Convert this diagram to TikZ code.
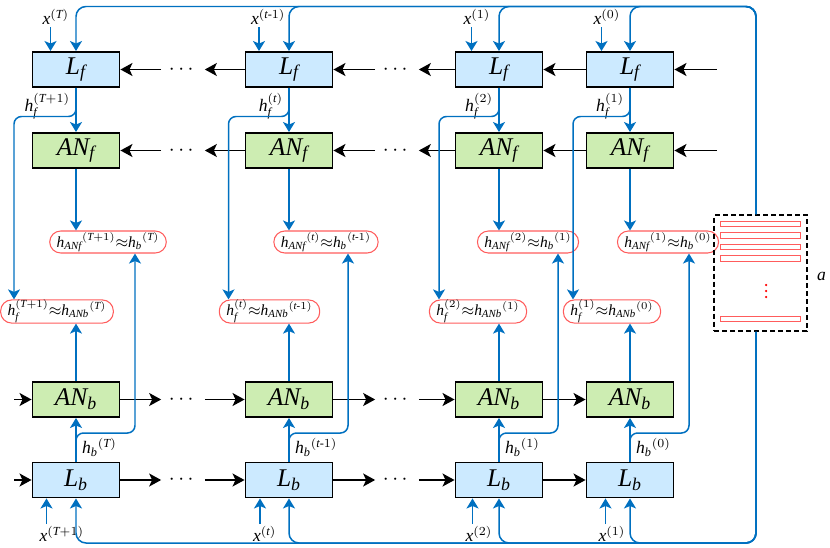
\documentclass[tikz,border=0pt]{standalone}
\usepackage{amsmath}
\usepackage{fontspec}
\setmainfont{Liberation Serif}[NFSSFamily=libserif]
\DeclareSymbolFont{letters}{TU}{libserif}{m}{it}
\DeclareSymbolFont{operators}{TU}{libserif}{m}{n}
\usetikzlibrary{arrows.meta}

\definecolor{feedblue}{RGB}{0,112,192}
\definecolor{lfill}{RGB}{204,234,255}
\definecolor{anfill}{RGB}{205,237,178}
\definecolor{pairred}{RGB}{255,92,92}

\begin{document}
\begin{tikzpicture}[
  lbox/.style={draw=black, line width=1.1pt, fill=lfill, minimum width=1.74cm, minimum height=0.7cm, inner sep=0pt, font=\fontsize{14.5}{17}\selectfont},
  anbox/.style={lbox, fill=anfill},
  pair/.style={draw=pairred, line width=0.6pt, rounded corners=0.22cm, minimum height=0.44cm, inner xsep=4pt, inner ysep=0pt, font=\fontsize{8.8}{10}\selectfont},
  slot/.style={draw=pairred, line width=0.6pt, minimum width=1.614cm, minimum height=0.11cm, inner sep=0pt},
  dots/.style={minimum width=0.86cm, inner sep=0pt, font=\large},
  lab/.style={inner sep=1pt},
  feed/.style={draw=feedblue, line width=0.85pt, -{Stealth[length=0.2cm, width=0.24cm, inset=0.05cm]}},
  flow/.style={draw=black, line width=0.95pt, -{Stealth[length=0.24cm, width=0.26cm, inset=0.06cm]}}
]
\useasboundingbox (0,0) rectangle (16.6,-10.94);

% forward chain
\node[lbox] (Lf1) at (1.52, -1.39) {$L_f$};
\node[lbox] (Lf2) at (5.78, -1.39) {$L_f$};
\node[lbox] (Lf3) at (9.98, -1.39) {$L_f$};
\node[lbox] (Lf4) at (12.60, -1.39) {$L_f$};
\node[anbox] (ANf1) at (1.52, -3.01) {$AN_f$};
\node[anbox] (ANf2) at (5.78, -3.01) {$AN_f$};
\node[anbox] (ANf3) at (9.98, -3.01) {$AN_f$};
\node[anbox] (ANf4) at (12.60, -3.01) {$AN_f$};

% backward chain
\node[anbox] (ANb1) at (1.52, -7.99) {$AN_b$};
\node[anbox] (ANb2) at (5.78, -7.99) {$AN_b$};
\node[anbox] (ANb3) at (9.98, -7.99) {$AN_b$};
\node[anbox] (ANb4) at (12.60, -7.99) {$AN_b$};
\node[lbox] (Lb1) at (1.52, -9.60) {$L_b$};
\node[lbox] (Lb2) at (5.78, -9.60) {$L_b$};
\node[lbox] (Lb3) at (9.98, -9.60) {$L_b$};
\node[lbox] (Lb4) at (12.60, -9.60) {$L_b$};

% matched states
\node[pair] (up1) at (2.16, -4.84) {$h_{ANf}{}^{(T+1)}{\approx}h_b{}^{(T)}$};
\node[pair] (up2) at (6.52, -4.84) {$h_{ANf}{}^{(t)}{\approx}h_b{}^{(t\text{-}1)}$};
\node[pair] (up3) at (10.56, -4.84) {$h_{ANf}{}^{(2)}{\approx}h_b{}^{(1)}$};
\node[pair] (up4) at (13.36, -4.84) {$h_{ANf}{}^{(1)}{\approx}h_b{}^{(0)}$};
\node[pair] (lo1) at (1.14, -6.23) {$h_f^{(T+1)}{\approx}h_{ANb}{}^{(T)}$};
\node[pair] (lo2) at (5.39, -6.23) {$h_f^{(t)}{\approx}h_{ANb}{}^{(t\text{-}1)}$};
\node[pair] (lo3) at (9.56, -6.23) {$h_f^{(2)}{\approx}h_{ANb}{}^{(1)}$};
\node[pair] (lo4) at (12.24, -6.23) {$h_f^{(1)}{\approx}h_{ANb}{}^{(0)}$};

% memory
\node[draw=black, line width=1.1pt, dash pattern=on 0.1cm off 0.06cm, minimum width=1.854cm, minimum height=2.32cm, inner sep=0pt] (mem) at (15.21, -5.46) {};
\node[slot] (slot1) at (15.21, -4.48) {};
\node[slot] (slot2) at (15.21, -4.71) {};
\node[slot] (slot3) at (15.21, -4.94) {};
\node[slot] (slot4) at (15.21, -5.17) {};
\node[slot] (slot5) at (15.21, -6.38) {};
\fill[red] (15.32, -5.70) circle (0.025);
\fill[red] (15.32, -5.82) circle (0.025);
\fill[red] (15.32, -5.94) circle (0.025);
\node[lab] (mema) at (16.43, -5.53) {$a$};

% dots
\node[dots] (dtf1) at (3.66, -1.39) {$\cdots$};
\node[dots] (dtf2) at (7.94, -1.39) {$\cdots$};
\node[dots] (daf1) at (3.66, -3.01) {$\cdots$};
\node[dots] (daf2) at (7.94, -3.01) {$\cdots$};
\node[dots] (dab1) at (3.66, -7.99) {$\cdots$};
\node[dots] (dab2) at (7.94, -7.99) {$\cdots$};
\node[dots] (dlb1) at (3.66, -9.60) {$\cdots$};
\node[dots] (dlb2) at (7.94, -9.60) {$\cdots$};

% free ends
\coordinate (top) at (0, -0.13);
\coordinate (bot) at (0, -10.86);
\coordinate (inLf) at (14.33, -1.39);
\coordinate (inANf) at (14.33, -3.01);
\coordinate (inANb) at (0.28, -7.99);
\coordinate (inLb) at (0.28, -9.60);
\coordinate (xt1) at (1.01, -0.54);
\coordinate (xt2) at (5.18, -0.54);
\coordinate (xt3) at (9.43, -0.54);
\coordinate (xt4) at (12.03, -0.54);
\coordinate (xb1) at (0.93, -10.48);
\coordinate (xb2) at (5.20, -10.48);
\coordinate (xb3) at (9.45, -10.48);
\coordinate (xb4) at (12.11, -10.48);
\coordinate (hf1) at (0.28, -2.33);
\coordinate (hf2) at (4.57, -2.33);
\coordinate (hf3) at (8.78, -2.33);
\coordinate (hf4) at (11.46, -2.33);
\coordinate (hb1) at (2.70, -8.66);
\coordinate (hb2) at (6.96, -8.66);
\coordinate (hb3) at (11.16, -8.66);
\coordinate (hb4) at (13.78, -8.66);

% labels
\node[lab, anchor=south west] (lxt1) at ([xshift=-0.2cm]xt1) {$x^{(T)}$};
\node[lab, anchor=south west] (lxt2) at ([xshift=-0.2cm]xt2) {$x^{(t\text{-}1)}$};
\node[lab, anchor=south west] (lxt3) at ([xshift=-0.2cm]xt3) {$x^{(1)}$};
\node[lab, anchor=south west] (lxt4) at ([xshift=-0.2cm]xt4) {$x^{(0)}$};
\node[lab, anchor=north west] (lxb1) at ([xshift=-0.18cm]xb1) {$x^{(T+1)}$};
\node[lab, anchor=north west] (lxb2) at ([xshift=-0.18cm]xb2) {$x^{(t)}$};
\node[lab, anchor=north west] (lxb3) at ([xshift=-0.18cm]xb3) {$x^{(2)}$};
\node[lab, anchor=north west] (lxb4) at ([xshift=-0.18cm]xb4) {$x^{(1)}$};
\node[lab, anchor=north east] (lhf1) at ([xshift=-0.08cm, yshift=-0.06cm]Lf1.south) {$h_f^{(T+1)}$};
\node[lab, anchor=north east] (lhf2) at ([xshift=-0.08cm, yshift=-0.06cm]Lf2.south) {$h_f^{(t)}$};
\node[lab, anchor=north east] (lhf3) at ([xshift=-0.08cm, yshift=-0.06cm]Lf3.south) {$h_f^{(2)}$};
\node[lab, anchor=north east] (lhf4) at ([xshift=-0.08cm, yshift=-0.06cm]Lf4.south) {$h_f^{(1)}$};
\node[lab, anchor=south west] (lhb1) at ([xshift=0.08cm, yshift=0.06cm]Lb1.north) {$h_b{}^{(T)}$};
\node[lab, anchor=south west] (lhb2) at ([xshift=0.08cm, yshift=0.06cm]Lb2.north) {$h_b{}^{(t\text{-}1)}$};
\node[lab, anchor=south west] (lhb3) at ([xshift=0.08cm, yshift=0.06cm]Lb3.north) {$h_b{}^{(1)}$};
\node[lab, anchor=south west] (lhb4) at ([xshift=0.08cm, yshift=0.06cm]Lb4.north) {$h_b{}^{(0)}$};

% black chains
\draw[flow] (inLf) -- (Lf4);
\draw[flow] (Lf4) -- (Lf3);
\draw[flow] (Lf3) -- (dtf2);
\draw[flow] (dtf2) -- (Lf2);
\draw[flow] (Lf2) -- (dtf1);
\draw[flow] (dtf1) -- (Lf1);
\draw[flow] (inANf) -- (ANf4);
\draw[flow] (ANf4) -- (ANf3);
\draw[flow] (ANf3) -- (daf2);
\draw[flow] (daf2) -- (ANf2);
\draw[flow] (ANf2) -- (daf1);
\draw[flow] (daf1) -- (ANf1);
\draw[flow] (inANb) -- (ANb1);
\draw[flow] (ANb1) -- (dab1);
\draw[flow] (dab1) -- (ANb2);
\draw[flow] (ANb2) -- (dab2);
\draw[flow] (dab2) -- (ANb3);
\draw[flow] (ANb3) -- (ANb4);
\draw[flow] (inLb) -- (Lb1);
\draw[flow] (Lb1) -- (dlb1);
\draw[flow] (dlb1) -- (Lb2);
\draw[flow] (Lb2) -- (dlb2);
\draw[flow] (dlb2) -- (Lb3);
\draw[flow] (Lb3) -- (Lb4);

% memory feeds
\draw[feed, rounded corners=0.2cm] ([xshift=-0.09cm]mem.north) |- (Lf1.north |- top) -- (Lf1.north);
\draw[feed, rounded corners=0.2cm] ([xshift=-0.09cm]mem.north) |- (Lf2.north |- top) -- (Lf2.north);
\draw[feed, rounded corners=0.2cm] ([xshift=-0.09cm]mem.north) |- (Lf3.north |- top) -- (Lf3.north);
\draw[feed, rounded corners=0.2cm] ([xshift=-0.09cm]mem.north) |- (Lf4.north |- top) -- (Lf4.north);
\draw[feed, rounded corners=0.2cm] ([xshift=-0.09cm]mem.south) |- (Lb1.south |- bot) -- (Lb1.south);
\draw[feed, rounded corners=0.2cm] ([xshift=-0.09cm]mem.south) |- (Lb2.south |- bot) -- (Lb2.south);
\draw[feed, rounded corners=0.2cm] ([xshift=-0.09cm]mem.south) |- (Lb3.south |- bot) -- (Lb3.south);
\draw[feed, rounded corners=0.2cm] ([xshift=-0.09cm]mem.south) |- (Lb4.south |- bot) -- (Lb4.south);

% inputs
\draw[feed] (xt1) -- (xt1 |- Lf1.north);
\draw[feed] (xt2) -- (xt2 |- Lf2.north);
\draw[feed] (xt3) -- (xt3 |- Lf3.north);
\draw[feed] (xt4) -- (xt4 |- Lf4.north);
\draw[feed] (xb1) -- (xb1 |- Lb1.south);
\draw[feed] (xb2) -- (xb2 |- Lb2.south);
\draw[feed] (xb3) -- (xb3 |- Lb3.south);
\draw[feed] (xb4) -- (xb4 |- Lb4.south);

% forward states
\draw[feed] (Lf1) -- (ANf1);
\draw[feed] (Lf2) -- (ANf2);
\draw[feed] (Lf3) -- (ANf3);
\draw[feed] (Lf4) -- (ANf4);
\draw[feed, rounded corners=0.15cm] (Lf1.south) |- (hf1) -- (hf1 |- lo1.north);
\draw[feed, rounded corners=0.15cm] (Lf2.south) |- (hf2) -- (hf2 |- lo2.north);
\draw[feed, rounded corners=0.15cm] (Lf3.south) |- (hf3) -- (hf3 |- lo3.north);
\draw[feed, rounded corners=0.15cm] (Lf4.south) |- (hf4) -- (hf4 |- lo4.north);
\draw[feed] (ANf1) -- (ANf1 |- up1.north);
\draw[feed] (ANf2) -- (ANf2 |- up2.north);
\draw[feed] (ANf3) -- (ANf3 |- up3.north);
\draw[feed] (ANf4) -- (ANf4 |- up4.north);

% backward states
\draw[feed] (Lb1) -- (ANb1);
\draw[feed] (Lb2) -- (ANb2);
\draw[feed] (Lb3) -- (ANb3);
\draw[feed] (Lb4) -- (ANb4);
\draw[feed, rounded corners=0.15cm] (Lb1.north) |- (hb1) -- (hb1 |- up1.south);
\draw[feed, rounded corners=0.15cm] (Lb2.north) |- (hb2) -- (hb2 |- up2.south);
\draw[feed, rounded corners=0.15cm] (Lb3.north) |- (hb3) -- (hb3 |- up3.south);
\draw[feed, rounded corners=0.15cm] (Lb4.north) |- (hb4) -- (hb4 |- up4.south);
\draw[feed] (ANb1) -- (ANb1 |- lo1.south);
\draw[feed] (ANb2) -- (ANb2 |- lo2.south);
\draw[feed] (ANb3) -- (ANb3 |- lo3.south);
\draw[feed] (ANb4) -- (ANb4 |- lo4.south);

\end{tikzpicture}
\end{document}
